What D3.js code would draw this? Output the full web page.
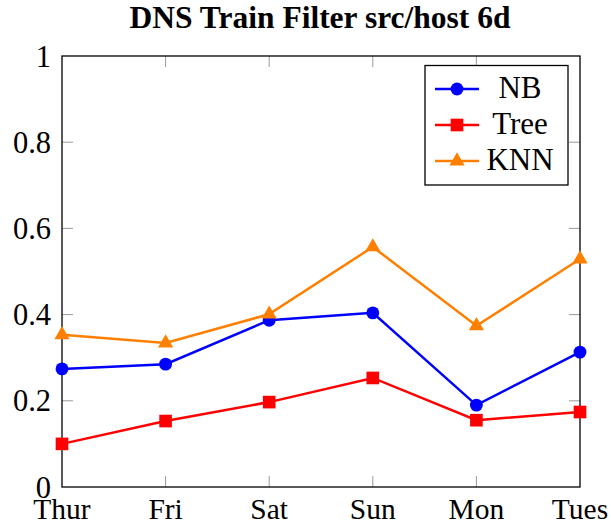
<!DOCTYPE html>
<html>
<head>
<meta charset="utf-8">
<script src="https://cdn.jsdelivr.net/npm/d3@7"></script>
<style>
  body { margin: 0; background: #fff; }
  text { font-family: "Liberation Serif", "Times New Roman", serif; }
</style>
</head>
<body>
<svg id="chart" width="611" height="527"></svg>
<script>
var days = ["Thur", "Fri", "Sat", "Sun", "Mon", "Tues"];
var nb   = [0.274, 0.285, 0.387, 0.404, 0.19, 0.313];
var tree = [0.1, 0.153, 0.197, 0.253, 0.155, 0.174];
var knn  = [0.353, 0.334, 0.401, 0.557, 0.374, 0.529];
var yTicks = [0, 0.2, 0.4, 0.6, 0.8, 1];

var series = [
  { name: "NB",   values: nb,   color: "#0000ff", symbol: d3.symbolCircle,   size: 130 },
  { name: "Tree", values: tree, color: "#ff0000", symbol: d3.symbolSquare,   size: 160 },
  { name: "KNN",  values: knn,  color: "#ff8000", symbol: d3.symbolTriangle, size: 100 }
];

var svg = d3.select("#chart"),
    plotL = 62, plotR = 580, plotT = 56, plotB = 487;

var x = d3.scalePoint().domain(days).range([plotL, plotR]);
var y = d3.scaleLinear().domain([0, 1]).range([plotB, plotT]);

// inner ticks, grey, on all four sides
var tickLen = 11;
var inner = yTicks.slice(1, -1);
svg.append("g").selectAll("line").data(inner).enter().append("line")
  .attr("x1", plotL).attr("x2", plotL + tickLen)
  .attr("y1", d => y(d)).attr("y2", d => y(d))
  .attr("stroke", "#9a9a9a").attr("stroke-width", 1);
svg.append("g").selectAll("line").data(inner).enter().append("line")
  .attr("x1", plotR - tickLen).attr("x2", plotR)
  .attr("y1", d => y(d)).attr("y2", d => y(d))
  .attr("stroke", "#9a9a9a").attr("stroke-width", 1);
var innerDays = days.slice(1, -1);
svg.append("g").selectAll("line").data(innerDays).enter().append("line")
  .attr("x1", d => x(d)).attr("x2", d => x(d))
  .attr("y1", plotB - tickLen).attr("y2", plotB)
  .attr("stroke", "#9a9a9a").attr("stroke-width", 1);
svg.append("g").selectAll("line").data(innerDays).enter().append("line")
  .attr("x1", d => x(d)).attr("x2", d => x(d))
  .attr("y1", plotT).attr("y2", plotT + tickLen)
  .attr("stroke", "#9a9a9a").attr("stroke-width", 1);

// frame
svg.append("rect")
  .attr("x", plotL).attr("y", plotT)
  .attr("width", plotR - plotL).attr("height", plotB - plotT)
  .attr("fill", "none").attr("stroke", "#000").attr("stroke-width", 1.3);

// tick labels
svg.append("g").selectAll("text").data(yTicks).enter().append("text")
  .attr("x", plotL - 11).attr("y", d => y(d) + 10.5)
  .attr("text-anchor", "end")
  .attr("font-size", 30.5)
  .text(d => d3.format("~g")(d));

svg.append("g").selectAll("text").data(days).enter().append("text")
  .attr("x", d => x(d)).attr("y", plotB + 32)
  .attr("text-anchor", "middle")
  .attr("font-size", 29.5)
  .text(d => d);

// title
svg.append("text")
  .attr("x", (plotL + plotR) / 2 - 1).attr("y", 28)
  .attr("text-anchor", "middle")
  .attr("font-size", 31.5).attr("font-weight", "bold")
  .text("DNS Train Filter src/host 6d");

// lines and markers
var line = d3.line()
  .x((d, i) => x(days[i]))
  .y(d => y(d));

series.forEach(function(s) {
  svg.append("path")
    .datum(s.values)
    .attr("d", line)
    .attr("fill", "none")
    .attr("stroke", s.color)
    .attr("stroke-width", 2.5);

  svg.append("g").selectAll("path").data(s.values).enter().append("path")
    .attr("d", d3.symbol().type(s.symbol).size(s.size))
    .attr("transform", (d, i) => "translate(" + x(days[i]) + "," + y(d) + ")")
    .attr("fill", s.color);
});

// legend
var legend = svg.append("g");
legend.append("rect")
  .attr("x", 425).attr("y", 65.5)
  .attr("width", 143).attr("height", 119.5)
  .attr("fill", "#fff").attr("stroke", "#000").attr("stroke-width", 1.3);

var entry = legend.selectAll("g.entry").data(series).enter().append("g")
  .attr("class", "entry")
  .attr("transform", (d, i) => "translate(0," + (89 + i * 36) + ")");

entry.append("line")
  .attr("x1", 435).attr("x2", 479)
  .attr("stroke", d => d.color).attr("stroke-width", 2.5);
entry.append("path")
  .attr("d", d => d3.symbol().type(d.symbol).size(d.size)())
  .attr("transform", "translate(457,0)")
  .attr("fill", d => d.color);
entry.append("text")
  .attr("x", 520).attr("y", 8.5)
  .attr("text-anchor", "middle")
  .attr("font-size", 31)
  .text(d => d.name);
</script>
</body>
</html>
